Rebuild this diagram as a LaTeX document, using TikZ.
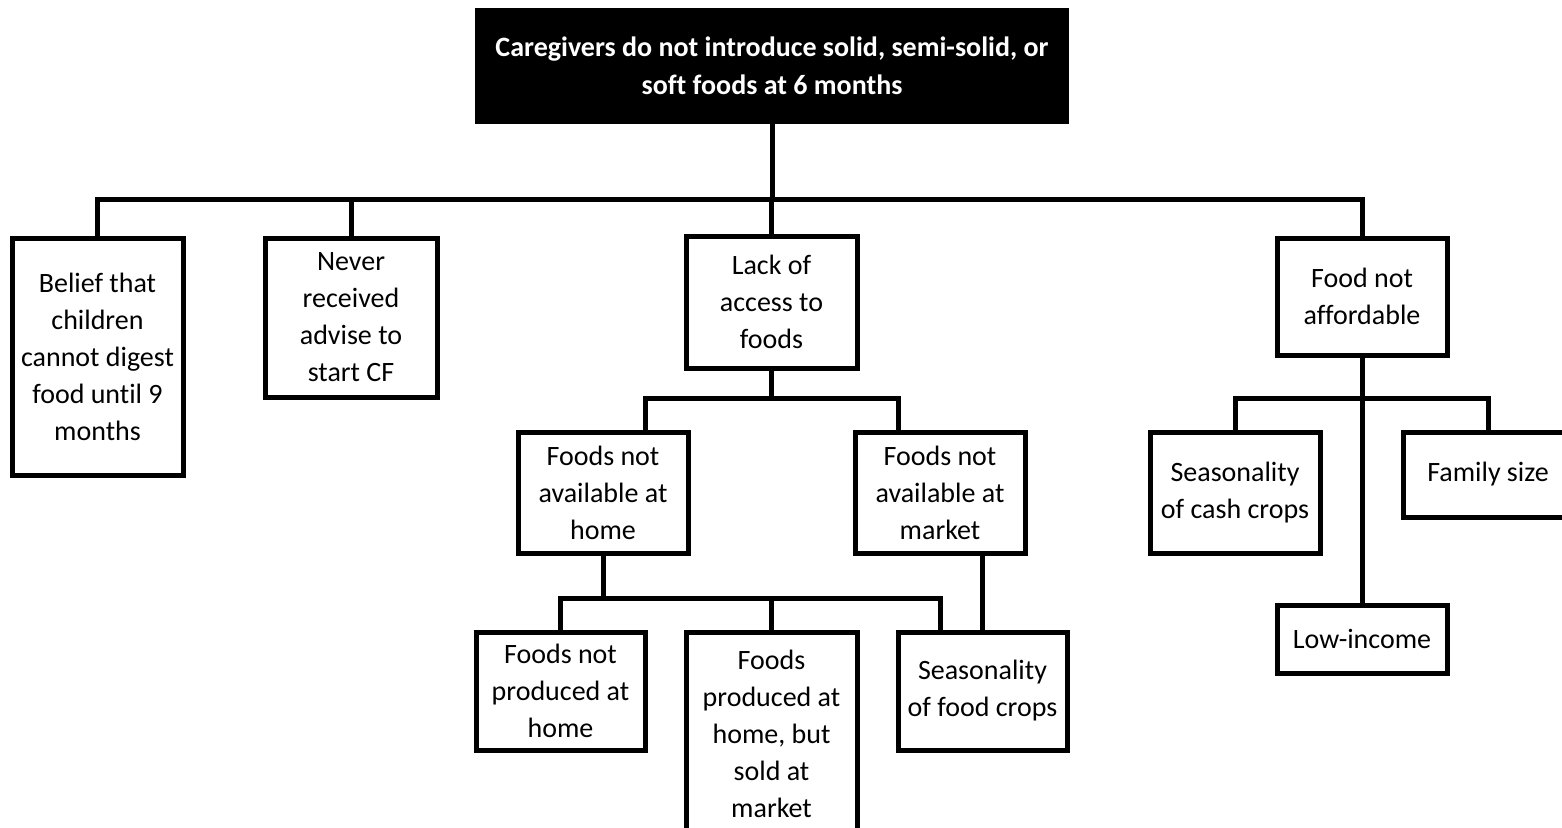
\documentclass[tikz,border=0pt]{standalone}
\usepackage{fontspec}
\setmainfont{Carlito}[Ligatures=NoCommon]
\begin{document}
\begin{tikzpicture}[x=1pt,y=-1pt,
  box/.style={draw, line width=5pt, align=center, inner sep=0pt,
    font=\fontsize{28}{37}\selectfont},
  headbox/.style={fill=black, text=white, align=center, inner sep=0pt,
    font=\fontsize{28}{38}\selectfont\bfseries},
  link/.style={line width=5pt},
]
\useasboundingbox (0,0) rectangle (1562,827);

% root problem
\node[headbox, minimum width=594pt, minimum height=116pt] (top) at (772,66)
  {Caregivers do not introduce solid, semi-solid, or\\soft foods at 6 months};

% first level causes
\node[box, minimum width=171pt, minimum height=237pt] (belief) at (97.5,356.5)
  {Belief that\\children\\cannot digest\\food until 9\\months};
\node[box, minimum width=172pt, minimum height=159pt] (never) at (351,317.5)
  {Never\\received\\advise to\\start CF};
\node[box, minimum width=171pt, minimum height=132pt] (lack) at (771.5,302)
  {Lack of\\access to\\foods};
\node[box, minimum width=170pt, minimum height=117pt] (aff) at (1362,296.5)
  {Food not\\affordable};

% access branch
\node[box, minimum width=170pt, minimum height=121pt] (home) at (603,492.5)
  {Foods not\\available at\\home};
\node[box, minimum width=170pt, minimum height=121pt] (market) at (940,492.5)
  {Foods not\\available at\\market};
\node[box, minimum width=169pt, minimum height=118pt] (notprod) at (560.5,691)
  {Foods not\\produced at\\home};
\node[box, minimum width=171pt, minimum height=204pt] (sold) at (771.5,734)
  {Foods\\produced at\\home, but\\sold at\\market};
\node[box, minimum width=169pt, minimum height=118pt] (season) at (982.5,691)
  {Seasonality\\of food crops};

% affordability branch
\node[box, minimum width=170pt, minimum height=121pt] (cash) at (1235,492.5)
  {Seasonality\\of cash crops};
\node[box, minimum width=170pt, minimum height=85pt] (family) at (1488,474.5)
  {Family size};
\node[box, minimum width=170pt, minimum height=68pt] (low) at (1362,639)
  {Low-income};

% bar levels and off-centre drop points
\coordinate (b1) at (0,199);
\coordinate (b2) at (0,398);
\coordinate (b3) at (0,598);
\coordinate (hx) at (645,398);
\coordinate (mx) at (898,398);
\coordinate (sx) at (940,598);

% connectors, first level
\draw[link] (belief.north) |- (b1 -| aff.north) -- (aff.north);
\draw[link] (never.north) -- (never.north |- b1);
\draw[link] (lack.north) -- (lack.north |- b1);
\draw[link] (top.south) -- (top.south |- b1);

% connectors, access branch
\draw[link] (lack.south) -- (lack.south |- b2);
\draw[link] (hx |- home.north) -- (hx) -- (mx) -- (mx |- market.north);
\draw[link] (home.south) -- (home.south |- b3);
\draw[link] (notprod.north) |- (sx) -- (sx |- season.north);
\draw[link] (sold.north) -- (sold.north |- b3);
\draw[link] (market.south -| season.north) -- (season.north);

% connectors, affordability branch
\draw[link] (aff.south) -- (low.north);
\draw[link] (cash.north) |- (b2 -| family.north) -- (family.north);
\end{tikzpicture}
\end{document}
